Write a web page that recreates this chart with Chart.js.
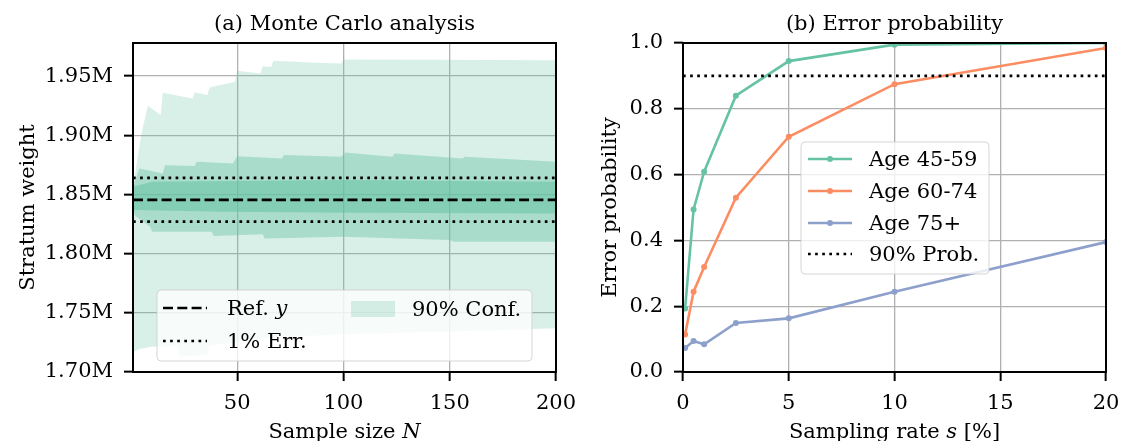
<!DOCTYPE html>
<html>
<head>
<meta charset="utf-8">
<script src="https://cdn.jsdelivr.net/npm/chart.js@4.4.1/dist/chart.umd.min.js"></script>
<style>
  html, body { margin: 0; padding: 0; background: #fff; }
  #wrap { position: relative; width: 1123px; height: 441px; overflow: hidden; }
  #mc { position: absolute; left: 0; top: 0; }
  #ep { position: absolute; left: 565px; top: 0; }
</style>
</head>
<body>
<div id="wrap">
  <canvas id="mc" width="600" height="441"></canvas>
  <canvas id="ep" width="600" height="441"></canvas>
</div>
<script>
// ---- (a) Monte Carlo analysis ----
const refWeight = 1845500;
const errRate = 0.01;
const sizeRange = [1, 200];
const sizeTicks = [50, 100, 150, 200];
const weightTicks = [1700000, 1750000, 1800000, 1850000, 1900000, 1950000];

// outer band (lightest)
const outerUpN = [1, 5, 8, 14, 15, 29, 30, 36, 37, 49, 50, 61, 62, 66, 67, 87, 99, 100, 200];
const outerUpW = [1856500, 1901600, 1924900, 1917100, 1935900, 1931100, 1936200, 1934000, 1940400,
  1945200, 1954500, 1952300, 1958400, 1957800, 1963000, 1961300, 1960700, 1964100, 1963500];
const outerLoN = [1, 4, 10, 22, 23, 36, 37, 60, 100, 150, 200];
const outerLoW = [1716900, 1719400, 1721400, 1722000, 1712900, 1714400, 1722000, 1728500, 1732000, 1734000, 1736900];

// middle band
const midUpN = [1, 4, 15, 16, 30, 31, 48, 50, 71, 72, 99, 101, 123, 124, 156, 157, 200];
const midUpW = [1856500, 1872000, 1867800, 1874800, 1874000, 1877600, 1876200, 1882400, 1880500,
  1883300, 1881900, 1885500, 1881900, 1884700, 1880500, 1881900, 1877600];
const midLoN = [1, 2, 9, 10, 38, 39, 62, 63, 100, 150, 152, 200];
const midLoW = [1836800, 1832000, 1822700, 1818500, 1818500, 1815000, 1816500, 1812900, 1814300, 1811500, 1810100, 1810100];

// inner band (darkest)
const innerUpN = [1, 10, 100, 200];
const innerUpW = [1856500, 1860700, 1862200, 1860700];
const innerLoN = [1, 43, 105, 200];
const innerLoW = [1836800, 1835400, 1834500, 1834000];

// ---- (b) Error probability ----
const rates = [0.1, 0.5, 1, 2.5, 5, 10, 20];
const age45 = [0.193, 0.494, 0.609, 0.840, 0.945, 0.995, 1.0];
const age60 = [0.114, 0.244, 0.319, 0.530, 0.715, 0.875, 0.985];
const age75 = [0.073, 0.094, 0.084, 0.149, 0.163, 0.244, 0.395];
const probLevel = 0.9;
const rateTicks = [0, 5, 10, 15, 20];
const probTicks = [0, 0.2, 0.4, 0.6, 0.8, 1.0];

const FONT = "'DejaVu Serif', serif";
const SIZE = 21;
Chart.defaults.font.family = FONT;
Chart.defaults.font.size = SIZE;
Chart.defaults.color = '#000';

const green = '#66c2a5', orange = '#fc8d62', blue = '#8da0cb';
const outerFill = 'rgba(102,194,165,0.25)';
const midFill = 'rgba(102,194,165,0.42)';
const innerFill = 'rgba(102,194,165,0.55)';

const pts = (xs, ys) => xs.map((x, i) => ({ x: x, y: ys[i] }));
const flat = (v, range) => [{ x: range[0], y: v }, { x: range[1], y: v }];
const edge = { borderWidth: 0, borderColor: 'transparent', pointRadius: 0 };

function gridOpts() {
  return { color: '#b0b0b0', lineWidth: 1.3, tickColor: '#000', tickWidth: 2, tickLength: 9 };
}
function fixTicks(list) {
  return scale => { scale.ticks = list.map(v => ({ value: v })); };
}

// text made of plain and italic pieces, centred at x
function drawParts(ctx, parts, x, y) {
  const fonts = parts.map(p => (p[1] ? 'italic ' : '') + SIZE + 'px ' + FONT);
  let w = 0;
  parts.forEach((p, i) => { ctx.font = fonts[i]; w += ctx.measureText(p[0]).width; });
  let cx = x - w / 2;
  ctx.textAlign = 'left';
  parts.forEach((p, i) => {
    ctx.font = fonts[i];
    ctx.fillText(p[0], cx, y);
    cx += ctx.measureText(p[0]).width;
  });
}

function drawLegendBox(ctx, b) {
  const r = 4;
  ctx.beginPath();
  ctx.moveTo(b.x + r, b.y);
  ctx.arcTo(b.x + b.w, b.y, b.x + b.w, b.y + b.h, r);
  ctx.arcTo(b.x + b.w, b.y + b.h, b.x, b.y + b.h, r);
  ctx.arcTo(b.x, b.y + b.h, b.x, b.y, r);
  ctx.arcTo(b.x, b.y, b.x + b.w, b.y, r);
  ctx.closePath();
  ctx.fillStyle = 'rgba(255,255,255,0.8)';
  ctx.fill();
  ctx.strokeStyle = 'rgba(204,204,204,0.8)';
  ctx.lineWidth = 1;
  ctx.stroke();
}

function decor(o) {
  return {
    id: 'decor',
    afterDraw(chart) {
      const ctx = chart.ctx, a = chart.chartArea;
      ctx.save();
      ctx.strokeStyle = '#000';
      ctx.lineWidth = 2;
      ctx.strokeRect(a.left, a.top, a.right - a.left, a.bottom - a.top);
      ctx.fillStyle = '#000';
      ctx.textBaseline = 'alphabetic';
      drawParts(ctx, [[o.title, false]], (a.left + a.right) / 2, 30);
      drawParts(ctx, o.xTitle, (a.left + a.right) / 2, 438);
      ctx.save();
      ctx.translate(o.yTitleX, (a.top + a.bottom) / 2);
      ctx.rotate(-Math.PI / 2);
      drawParts(ctx, [[o.yTitle, false]], 0, 0);
      ctx.restore();
      drawLegendBox(ctx, o.legend.box);
      o.legend.items.forEach(it => {
        ctx.save();
        if (it.kind === 'patch') {
          ctx.fillStyle = it.color;
          ctx.fillRect(it.x, it.y - 15, 44, 16);
        } else {
          ctx.strokeStyle = it.color;
          ctx.lineWidth = it.width;
          ctx.setLineDash(it.dash || []);
          ctx.beginPath();
          ctx.moveTo(it.x, it.y - 7);
          ctx.lineTo(it.x + 44, it.y - 7);
          ctx.stroke();
          if (it.marker) {
            ctx.setLineDash([]);
            ctx.fillStyle = it.color;
            ctx.beginPath();
            ctx.arc(it.x + 22, it.y - 7, 3, 0, Math.PI * 2);
            ctx.fill();
          }
        }
        ctx.restore();
        ctx.fillStyle = '#000';
        let cx = it.tx;
        it.text.forEach(p => {
          ctx.font = (p[1] ? 'italic ' : '') + SIZE + 'px ' + FONT;
          ctx.textAlign = 'left';
          ctx.fillText(p[0], cx, it.y);
          cx += ctx.measureText(p[0]).width;
        });
      });
      ctx.restore();
    }
  };
}

new Chart(document.getElementById('mc'), {
  type: 'line',
  data: {
    datasets: [
      { data: flat(refWeight, sizeRange), borderColor: '#000', borderWidth: 2.7, borderDash: [10, 4.3], pointRadius: 0, fill: false },
      { data: flat(refWeight * (1 + errRate), sizeRange), borderColor: '#000', borderWidth: 2.7, borderDash: [2.7, 4.4], pointRadius: 0, fill: false },
      { data: flat(refWeight * (1 - errRate), sizeRange), borderColor: '#000', borderWidth: 2.7, borderDash: [2.7, 4.4], pointRadius: 0, fill: false },
      Object.assign({ data: pts(innerUpN, innerUpW), fill: '+1', backgroundColor: innerFill }, edge),
      Object.assign({ data: pts(innerLoN, innerLoW), fill: false }, edge),
      Object.assign({ data: pts(midUpN, midUpW), fill: '+1', backgroundColor: midFill }, edge),
      Object.assign({ data: pts(midLoN, midLoW), fill: false }, edge),
      Object.assign({ data: pts(outerUpN, outerUpW), fill: '+1', backgroundColor: outerFill }, edge),
      Object.assign({ data: pts(outerLoN, outerLoW), fill: false }, edge)
    ]
  },
  options: {
    responsive: false,
    animation: false,
    events: [],
    layout: { padding: { left: 0, top: 43, right: 44, bottom: 0 } },
    plugins: { legend: { display: false }, tooltip: { enabled: false } },
    scales: {
      x: {
        type: 'linear', min: sizeRange[0], max: sizeRange[1],
        afterBuildTicks: fixTicks(sizeTicks),
        afterFit: s => { s.height = 69; },
        grid: gridOpts(), border: { display: false },
        ticks: { padding: 10, maxRotation: 0, autoSkip: false }
      },
      y: {
        type: 'linear', min: 1700000, max: 1978000,
        afterBuildTicks: fixTicks(weightTicks),
        afterFit: s => { s.width = 133; },
        grid: gridOpts(), border: { display: false },
        ticks: { padding: 11, callback: v => (v / 1e6).toFixed(2) + 'M' }
      }
    }
  },
  plugins: [decor({
    title: '(a) Monte Carlo analysis',
    xTitle: [['Sample size ', false], ['N', true]],
    yTitle: 'Stratum weight',
    yTitleX: 34,
    legend: {
      box: { x: 157, y: 290, w: 375, h: 71 },
      items: [
        { kind: 'line', x: 163, y: 315, color: '#000', width: 2.7, dash: [10, 4.3], tx: 227, text: [['Ref. ', false], ['y', true]] },
        { kind: 'line', x: 163, y: 348, color: '#000', width: 2.7, dash: [2.7, 4.4], tx: 227, text: [['1% Err.', false]] },
        { kind: 'patch', x: 351, y: 316, color: outerFill, tx: 412, text: [['90% Conf.', false]] }
      ]
    }
  })]
});

const lineStyle = c => ({ borderColor: c, backgroundColor: c, borderWidth: 2.6, pointRadius: 3, pointBorderWidth: 0, fill: false });

new Chart(document.getElementById('ep'), {
  type: 'line',
  data: {
    datasets: [
      { data: flat(probLevel, [0, 20]), borderColor: '#000', borderWidth: 2.7, borderDash: [2.7, 4.4], pointRadius: 0, fill: false },
      Object.assign({ data: pts(rates, age75) }, lineStyle(blue)),
      Object.assign({ data: pts(rates, age60) }, lineStyle(orange)),
      Object.assign({ data: pts(rates, age45) }, lineStyle(green))
    ]
  },
  options: {
    responsive: false,
    animation: false,
    events: [],
    layout: { padding: { left: 0, top: 43, right: 59, bottom: 0 } },
    plugins: { legend: { display: false }, tooltip: { enabled: false } },
    scales: {
      x: {
        type: 'linear', min: 0, max: 20,
        afterBuildTicks: fixTicks(rateTicks),
        afterFit: s => { s.height = 69; },
        grid: gridOpts(), border: { display: false },
        ticks: { padding: 10, maxRotation: 0, autoSkip: false }
      },
      y: {
        type: 'linear', min: 0, max: 1,
        afterBuildTicks: fixTicks(probTicks),
        afterFit: s => { s.width = 118; },
        grid: gridOpts(), border: { display: false },
        ticks: { padding: 11, callback: v => v.toFixed(1) }
      }
    }
  },
  plugins: [decor({
    title: '(b) Error probability',
    xTitle: [['Sampling rate ', false], ['s', true], [' [%]', false]],
    yTitle: 'Error probability',
    yTitleX: 51,
    legend: {
      box: { x: 236, y: 142, w: 188, h: 132 },
      items: [
        { kind: 'line', x: 243, y: 166, color: green, width: 2.6, marker: true, tx: 304, text: [['Age 45-59', false]] },
        { kind: 'line', x: 243, y: 198, color: orange, width: 2.6, marker: true, tx: 304, text: [['Age 60-74', false]] },
        { kind: 'line', x: 243, y: 230, color: blue, width: 2.6, marker: true, tx: 304, text: [['Age 75+', false]] },
        { kind: 'line', x: 243, y: 261, color: '#000', width: 2.7, dash: [2.7, 4.4], tx: 304, text: [['90% Prob.', false]] }
      ]
    }
  })]
});
</script>
</body>
</html>
